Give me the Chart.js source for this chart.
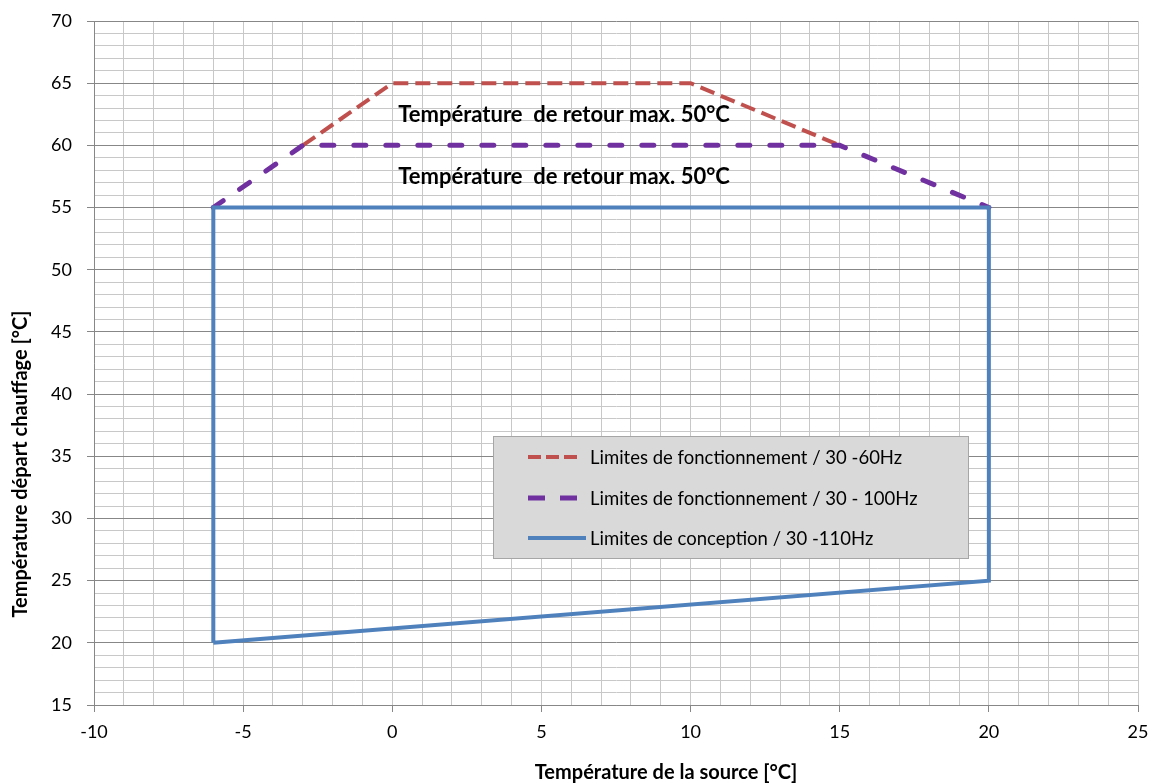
<!DOCTYPE html>
<html><head><meta charset="utf-8">
<script src="https://cdn.jsdelivr.net/npm/chart.js@4/dist/chart.umd.min.js"></script>
<style>html,body{margin:0;padding:0;background:#fff}#wrap{width:1152px;height:783px}</style>
</head><body><div id="wrap"><canvas id="c" width="1152" height="783"></canvas></div>
<script>
// ---- data ----
const seriesNames = ['Limites de fonctionnement / 30 -60Hz', 'Limites de fonctionnement / 30 - 100Hz', 'Limites de conception / 30 -110Hz'];
const redX = [-3, 0, 10, 15];
const redY = [60, 65, 65, 60];
const purpleX = [-6, -3, 15, 20];
const purpleY = [55, 60, 60, 55];
const blueX = [-6, -6, 20, 20, -6];
const blueY = [20, 55, 55, 25, 20];
const xTickLabels = [-10, -5, 0, 5, 10, 15, 20, 25];
const yTickLabels = [15, 20, 25, 30, 35, 40, 45, 50, 55, 60, 65, 70];
const annotationTexts = ['Température  de retour max. 50°C', 'Température  de retour max. 50°C'];
const annotationX = [0.2, 0.2];
const annotationY = [61.9, 56.9];
const xTitle = 'Température de la source [°C]';
const yTitle = 'Température départ chauffage [°C]';

const toPts = (xs, ys) => xs.map((x, i) => ({x: x, y: ys[i]}));
const FONT = 'Lato, "Open Sans", sans-serif';
const MAJOR = '#878787', MINOR = '#c8c8c8';

const legendSamples = [[13, 5], [17, 15], []];

const extras = {
  id: 'extras',
  afterDatasetsDraw(chart) {
    const ctx = chart.ctx, xs = chart.scales.x, ys = chart.scales.y;
    ctx.save();
    // annotations
    ctx.fillStyle = '#000';
    ctx.font = 'bold 22px ' + FONT;
    ctx.textAlign = 'left'; ctx.textBaseline = 'alphabetic';
    annotationTexts.forEach((t, i) => {
      ctx.fillText(t, xs.getPixelForValue(annotationX[i]), ys.getPixelForValue(annotationY[i]));
    });
    // legend box
    const lx = 493, ly = 436, lw = 475, lh = 122;
    ctx.fillStyle = '#d9d9d9';
    ctx.fillRect(lx, ly, lw, lh);
    ctx.strokeStyle = '#a6a6a6'; ctx.lineWidth = 1;
    ctx.strokeRect(lx + 0.5, ly + 0.5, lw, lh);
    const rows = [457, 498, 538];
    chart.data.datasets.forEach((ds, i) => {
      ctx.save();
      ctx.strokeStyle = ds.borderColor;
      ctx.lineWidth = ds.borderWidth;
      ctx.lineCap = 'butt';
      ctx.setLineDash(legendSamples[i]);
      ctx.beginPath();
      ctx.moveTo(528, rows[i]);
      ctx.lineTo(i === 2 ? 586 : 578, rows[i]);
      ctx.stroke();
      ctx.restore();
      ctx.fillStyle = '#000';
      ctx.font = '18.5px ' + FONT;
      ctx.textAlign = 'left'; ctx.textBaseline = 'middle';
      ctx.fillText(seriesNames[i], 590, rows[i] + 1);
    });
    // axis titles
    ctx.font = 'bold 20px ' + FONT;
    ctx.fillStyle = '#000';
    ctx.textAlign = 'center'; ctx.textBaseline = 'alphabetic';
    ctx.fillText(xTitle, 666, 779);
    ctx.translate(27, 464);
    ctx.rotate(-Math.PI / 2);
    ctx.fillText(yTitle, 0, 0);
    ctx.restore();
  }
};

new Chart(document.getElementById('c'), {
  type: 'scatter',
  data: {
    datasets: [
      {label: seriesNames[0], data: toPts(redX, redY), showLine: true, borderColor: '#c0504d', backgroundColor: '#c0504d',
       borderWidth: 4, borderDash: [15, 7], borderCapStyle: 'butt', pointRadius: 0, order: 3},
      {label: seriesNames[1], data: toPts(purpleX, purpleY), showLine: true, borderColor: '#7030a0', backgroundColor: '#7030a0',
       borderWidth: 5, borderDash: [12, 20], borderCapStyle: 'round', pointRadius: 0, order: 2},
      {label: seriesNames[2], data: toPts(blueX, blueY), showLine: true, borderColor: '#4f81bd', backgroundColor: '#4f81bd',
       borderWidth: 4, borderJoinStyle: 'miter', pointRadius: 0, order: 1}
    ]
  },
  options: {
    responsive: false, animation: false, devicePixelRatio: 1,
    layout: {padding: {top: 21, right: 14, left: 0, bottom: 0}},
    plugins: {legend: {display: false}, tooltip: {enabled: false}},
    scales: {
      x: {
        type: 'linear', min: -10, max: 25,
        afterFit: s => { s.height = 78; s.paddingLeft = 0; s.paddingRight = 0; },
        ticks: {stepSize: 1, autoSkip: false, maxRotation: 0, padding: 9, color: '#000',
                font: {family: FONT, size: 18},
                callback: v => xTickLabels.includes(v) ? String(v) : ''},
        grid: {color: MINOR, lineWidth: 1, tickLength: 7,
               tickColor: c => (c.tick && xTickLabels.includes(c.tick.value)) ? MAJOR : 'rgba(0,0,0,0)'},
        border: {display: true, color: MAJOR, width: 1}
      },
      y: {
        type: 'linear', min: 15, max: 70,
        afterFit: s => { s.width = 94; s.paddingTop = 0; s.paddingBottom = 0; },
        ticks: {stepSize: 1, autoSkip: false, padding: 15, color: '#000',
                font: {family: FONT, size: 18},
                callback: v => yTickLabels.includes(v) ? String(v) : ''},
        grid: {color: c => (c.tick && yTickLabels.includes(c.tick.value)) ? MAJOR : MINOR, lineWidth: 1, tickLength: 7,
               tickColor: c => (c.tick && yTickLabels.includes(c.tick.value)) ? MAJOR : 'rgba(0,0,0,0)'},
        border: {display: true, color: MAJOR, width: 1}
      }
    }
  },
  plugins: [extras]
});
</script></body></html>
